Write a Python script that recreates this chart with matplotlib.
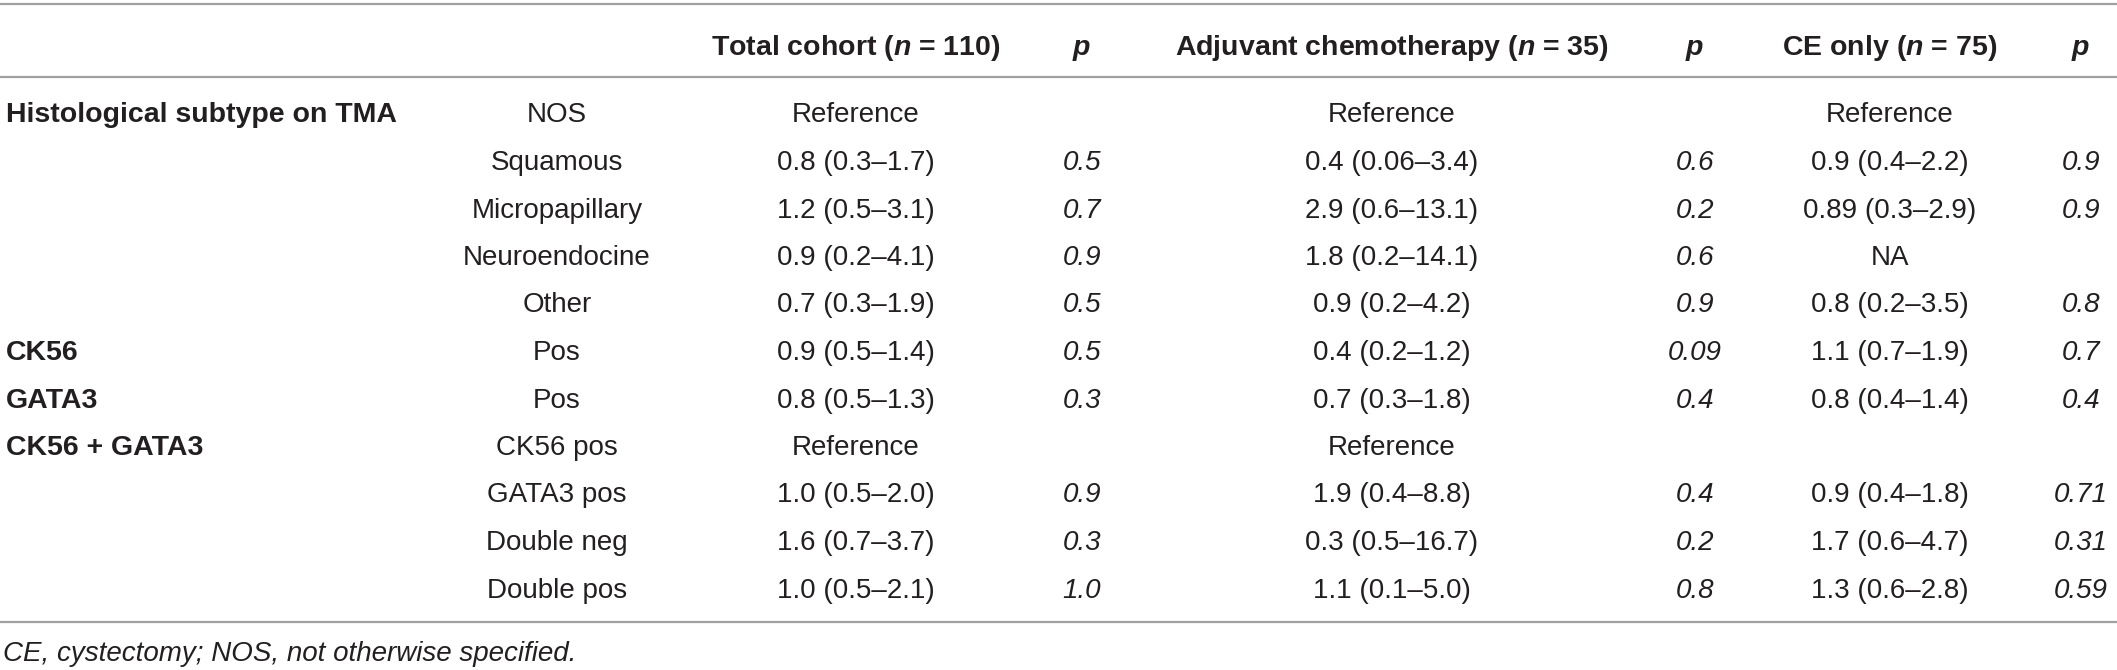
import matplotlib
matplotlib.use("Agg")
import matplotlib.pyplot as plt

plt.rcParams['font.family'] = ['Liberation Sans', 'DejaVu Sans']
plt.rcParams['mathtext.fontset'] = 'custom'
plt.rcParams['mathtext.it'] = 'Liberation Sans:bold:italic'
plt.rcParams['mathtext.rm'] = 'Liberation Sans:bold'

# table content
headers = ['Total cohort ($n$ = 110)', '$p$', 'Adjuvant chemotherapy ($n$ = 35)', '$p$',
           'CE only ($n$ = 75)', '$p$']
groups = ['Histological subtype on TMA', '', '', '', '', 'CK56', 'GATA3', 'CK56 + GATA3', '', '', '']
subgroups = ['NOS', 'Squamous', 'Micropapillary', 'Neuroendocine', 'Other', 'Pos', 'Pos',
             'CK56 pos', 'GATA3 pos', 'Double neg', 'Double pos']
total_hr = ['Reference', '0.8 (0.3–1.7)', '1.2 (0.5–3.1)', '0.9 (0.2–4.1)', '0.7 (0.3–1.9)',
            '0.9 (0.5–1.4)', '0.8 (0.5–1.3)', 'Reference', '1.0 (0.5–2.0)', '1.6 (0.7–3.7)',
            '1.0 (0.5–2.1)']
total_p = ['', '0.5', '0.7', '0.9', '0.5', '0.5', '0.3', '', '0.9', '0.3', '1.0']
adj_hr = ['Reference', '0.4 (0.06–3.4)', '2.9 (0.6–13.1)', '1.8 (0.2–14.1)', '0.9 (0.2–4.2)',
          '0.4 (0.2–1.2)', '0.7 (0.3–1.8)', 'Reference', '1.9 (0.4–8.8)', '0.3 (0.5–16.7)',
          '1.1 (0.1–5.0)']
adj_p = ['', '0.6', '0.2', '0.6', '0.9', '0.09', '0.4', '', '0.4', '0.2', '0.8']
ce_hr = ['Reference', '0.9 (0.4–2.2)', '0.89 (0.3–2.9)', 'NA', '0.8 (0.2–3.5)', '1.1 (0.7–1.9)',
         '0.8 (0.4–1.4)', '', '0.9 (0.4–1.8)', '1.7 (0.6–4.7)', '1.3 (0.6–2.8)']
ce_p = ['', '0.9', '0.9', '', '0.8', '0.7', '0.4', '', '0.71', '0.31', '0.59']
footnote = 'CE, cystectomy; NOS, not otherwise specified.'

W, H = 2117, 670
txt_col = '#231f20'
rule_col = '#a0a0a0'
fs = 20
fs_bold = 20.5

fig = plt.figure(figsize=(W / 100, H / 100), dpi=100)
ax = fig.add_axes([0, 0, 1, 1])
ax.set_xlim(0, W)
ax.set_ylim(H, 0)
ax.axis('off')

# column centres (pixels)
sub_x = 557
val_cols = [(856, total_hr, False), (1082, total_p, True), (1392, adj_hr, False),
            (1695, adj_p, True), (1890, ce_hr, False), (2081, ce_p, True)]

header_y = 45
row0, row_step = 112.5, 47.5
base = 10  # half cap height -> baseline offset

for (x, _, _), h in zip(val_cols, headers):
    ax.text(x, header_y + base, h, ha='center', va='baseline', fontsize=fs_bold,
            fontweight='bold', color=txt_col)

for i in range(len(subgroups)):
    y = row0 + row_step * i + base
    if groups[i]:
        ax.text(6, y, groups[i], ha='left', va='baseline', fontsize=fs_bold,
                fontweight='bold', color=txt_col)
    ax.text(sub_x, y, subgroups[i], ha='center', va='baseline', fontsize=fs, color=txt_col)
    for x, col, is_p in val_cols:
        if col[i]:
            ax.text(x, y, col[i], ha='center', va='baseline', fontsize=fs, color=txt_col,
                    style='italic' if is_p else 'normal')

for ry in [4, 77, 622]:
    ax.axhline(ry, color=rule_col, lw=1.6)

ax.text(3, 651 + base, footnote, ha='left', va='baseline', fontsize=fs,
        style='italic', color=txt_col)

fig.savefig('out.png', dpi=100)
